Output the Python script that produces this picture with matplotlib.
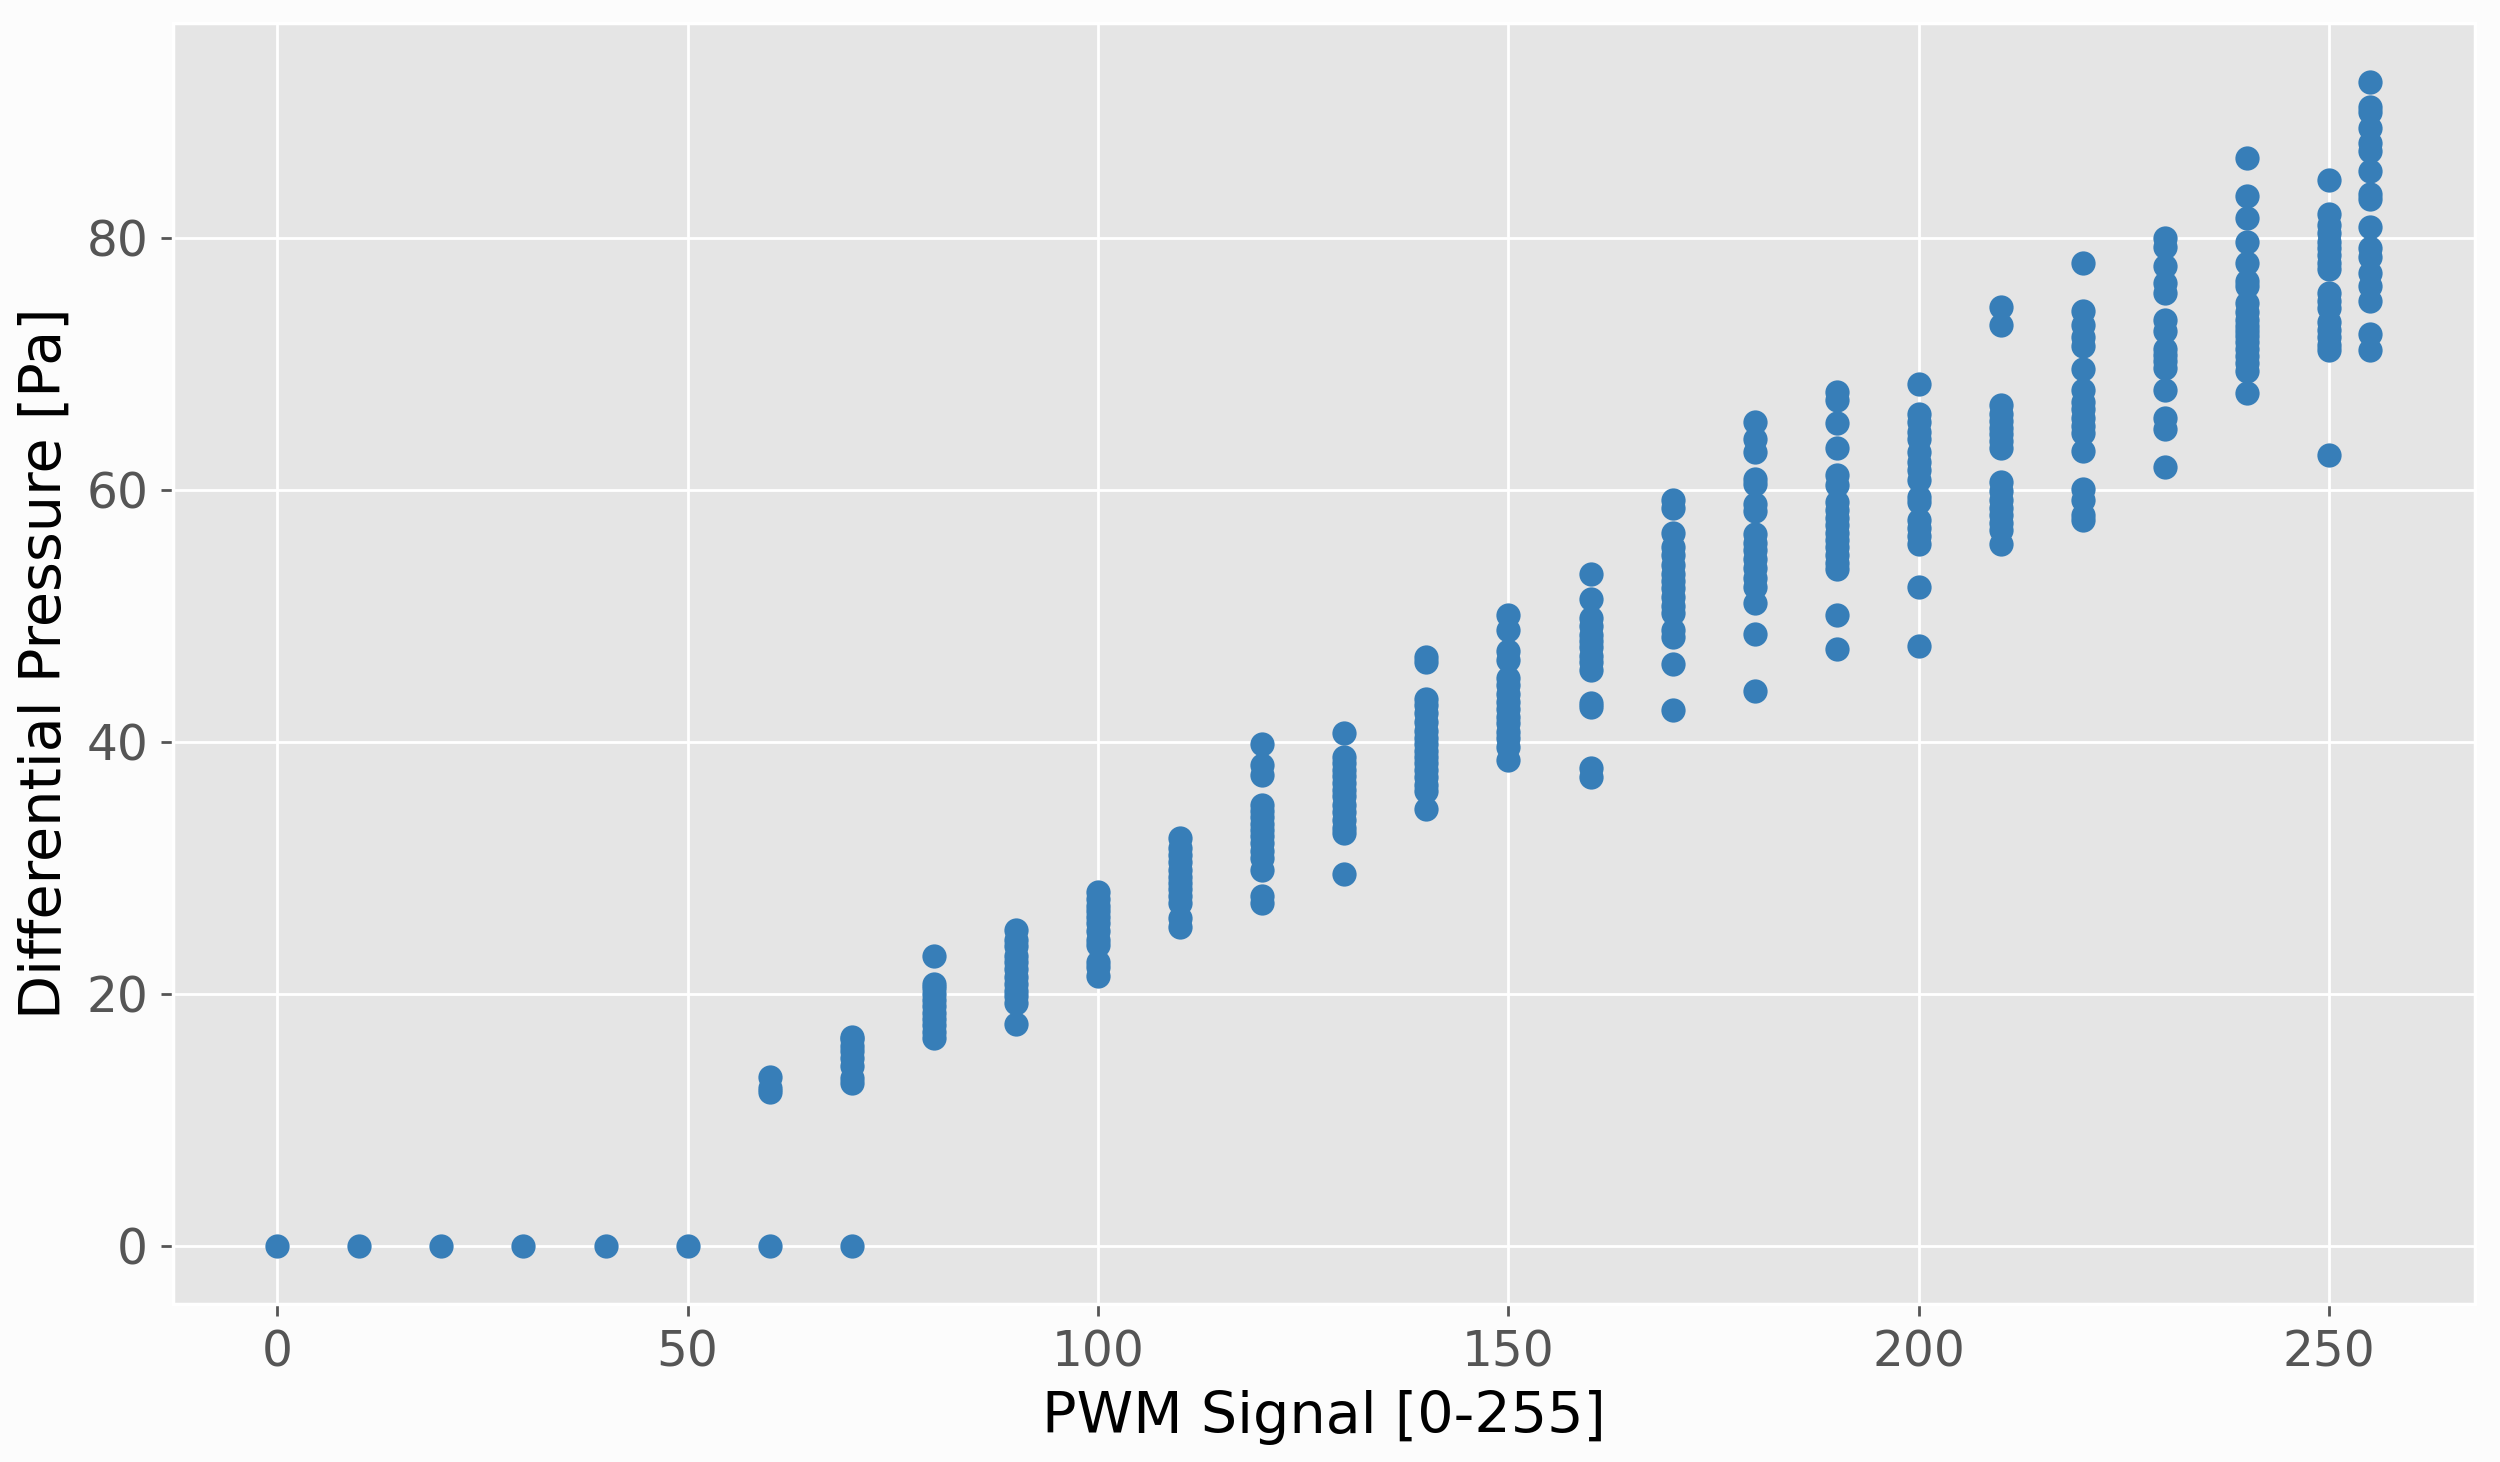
import matplotlib
matplotlib.use('Agg')
import matplotlib.pyplot as plt


################################## DATA ##################################
pwm_levels = [0, 10, 20, 30, 40, 50, 60, 70, 80, 90, 100, 110, 120, 130, 140,
              150, 160, 170, 180, 190, 200, 210, 220, 230, 240, 250, 255]

pressure_by_pwm = [
    [0.0],
    [0.0],
    [0.0],
    [0.0],
    [0.0],
    [0.0],
    [0.0, 12.2, 12.5, 13.4],
    [0.0, 12.9, 13.3, 14.3, 14.9, 15.5, 15.9, 16.4, 16.6],
    [16.5, 17.0, 17.5, 18.0, 18.5, 19.0, 19.5, 20.0, 20.5, 20.8, 23.0],
    [17.6, 19.3, 19.8, 20.2, 20.8, 21.3, 22.0, 22.5, 23.0, 23.8, 24.3, 25.1],
    [21.4, 22.1, 22.5, 23.9, 24.3, 25.0, 25.6, 26.1, 26.6, 27.0, 27.5, 28.1],
    [25.3, 26.0, 27.2, 27.8, 28.3, 28.8, 29.3, 29.8, 30.5, 31.0, 31.6, 32.4],
    [27.2, 27.8, 29.8, 30.8, 31.3, 32.0, 32.5, 33.0, 33.5, 34.0, 34.5, 35.0,
     37.4, 38.2, 39.8],
    [29.5, 32.8, 33.2, 33.8, 34.4, 35.0, 35.7, 36.2, 36.7, 37.3, 37.8, 38.3,
     38.8, 40.7],
    [34.7, 36.1, 36.6, 37.2, 37.8, 38.3, 38.8, 39.3, 39.8, 40.3, 40.9, 41.6,
     42.3, 42.9, 43.4, 46.3, 46.7],
    [38.6, 39.6, 40.3, 40.8, 41.5, 42.0, 42.6, 43.2, 43.8, 44.5, 45.1, 46.5,
     47.2, 48.9, 50.1],
    [37.2, 37.9, 42.8, 43.1, 45.7, 46.3, 46.8, 47.5, 48.0, 48.5, 49.2, 49.8,
     51.3, 53.3],
    [42.5, 46.2, 48.3, 48.9, 50.2, 50.8, 51.5, 52.2, 52.8, 53.3, 54.0, 54.8,
     55.5, 56.6, 58.6, 59.2],
    [44.0, 48.6, 51.0, 52.3, 53.0, 53.8, 54.5, 55.2, 55.8, 56.5, 58.3, 58.9,
     60.5, 60.9, 63.0, 64.0, 65.4],
    [47.4, 50.1, 53.7, 54.2, 54.8, 55.5, 56.0, 56.6, 57.2, 57.8, 58.4, 59.0,
     60.4, 61.2, 63.3, 65.3, 67.1, 67.8],
    [47.6, 52.3, 55.7, 56.3, 57.0, 57.6, 59.0, 59.4, 60.8, 61.6, 62.2, 63.0,
     64.0, 64.6, 65.4, 66.0, 68.4],
    [55.7, 56.8, 57.4, 58.0, 58.6, 59.2, 59.9, 60.6, 63.3, 63.9, 64.4, 64.9,
     65.5, 66.0, 66.7, 73.1, 74.5],
    [57.6, 58.0, 59.2, 60.1, 63.1, 64.5, 65.1, 65.7, 66.4, 67.0, 67.9, 69.6,
     71.4, 72.1, 73.1, 74.2, 78.0],
    [61.8, 64.8, 65.7, 67.9, 69.7, 70.2, 70.7, 71.2, 72.6, 73.5, 75.6, 76.4,
     77.8, 79.3, 80.0],
    [67.7, 69.4, 70.1, 70.6, 71.2, 71.7, 72.2, 72.6, 73.0, 73.5, 74.1, 74.8,
     76.2, 76.6, 78.0, 79.7, 81.6, 83.3, 86.3],
    [62.8, 71.1, 71.5, 72.1, 72.7, 73.3, 74.4, 75.0, 75.6, 77.5, 78.0, 78.6,
     79.2, 79.7, 80.4, 81.0, 81.9, 84.6],
    [71.1, 72.4, 75.0, 76.2, 77.2, 78.5, 79.2, 80.9, 83.1, 83.5, 85.3, 86.9,
     87.5, 88.7, 90.0, 90.4, 92.4],
]

x_label = 'PWM Signal [0-255]'
y_label = 'Differential Pressure [Pa]'


################################# PLOTTING #################################
plt.style.use('ggplot')

# flatten the groups into x/y lists for scatter
pwm = []
pressure = []
for level, values in zip(pwm_levels, pressure_by_pwm):
    for v in values:
        pwm.append(level)
        pressure.append(v)

fig, ax = plt.subplots(figsize=(10, 5.848), dpi=250)
fig.patch.set_facecolor('#fcfcfc')
fig.subplots_adjust(left=0.069, right=0.990, top=0.984, bottom=0.108)

ax.scatter(pwm, pressure, color='#377eb8', s=42, zorder=3)

ax.set_xlabel(x_label, fontsize=16.5, color='black')
ax.set_ylabel(y_label, fontsize=16.5, color='black')
ax.tick_params(labelsize=14)

plt.savefig('out.png', dpi=250, facecolor=fig.get_facecolor())
plt.close(fig)
